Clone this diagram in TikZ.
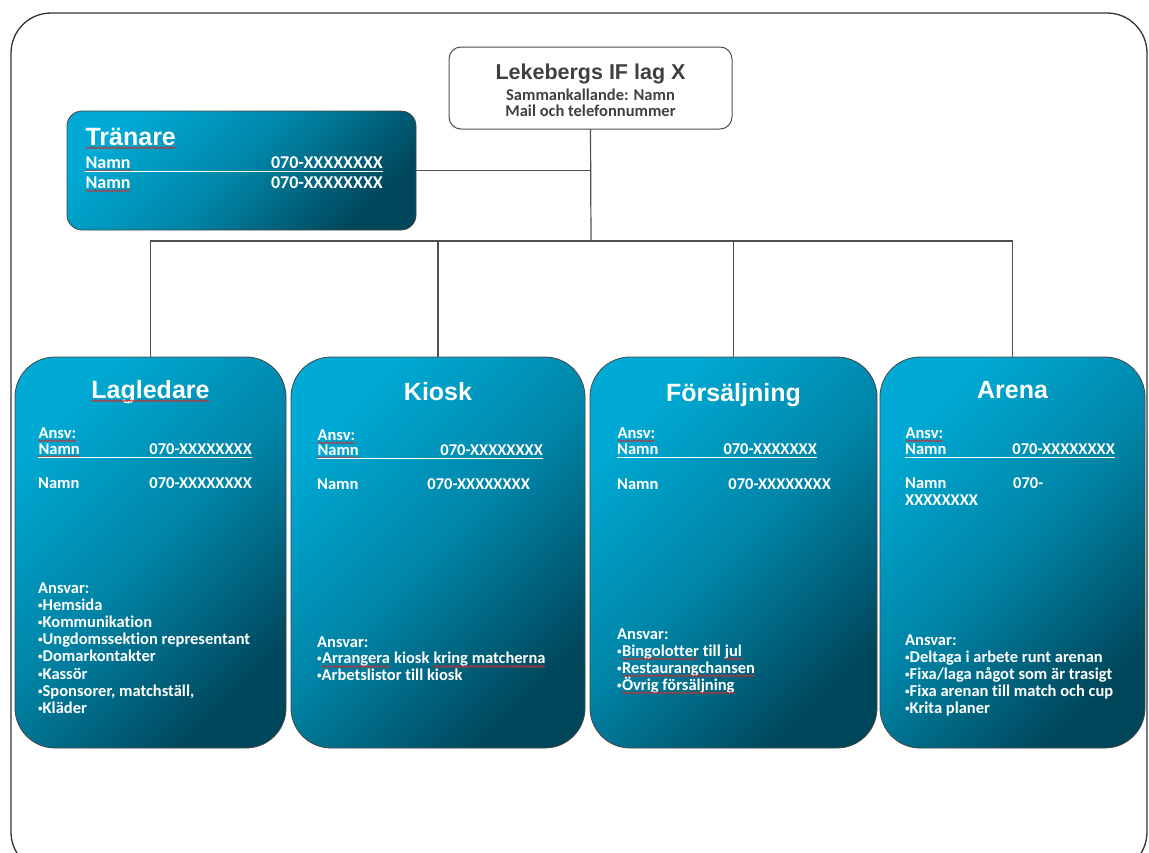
\documentclass[tikz,border=0pt]{standalone}
\usepackage{fontspec}
\setmainfont{Carlito}[Ligatures=NoCommon]
\newfontfamily\arialfont{Liberation Sans}
\usetikzlibrary{decorations.pathmorphing}
\definecolor{sqred}{RGB}{205,45,45}
\newcommand\sqg[1]{\tikz[baseline=(sqw.base)]{\node[inner sep=0pt,outer sep=0pt,anchor=base] (sqw) {#1};\draw[sqred, line width=0.7pt, decorate, decoration={snake, amplitude=0.9pt, segment length=3pt}] ([yshift=-2.8pt]sqw.base west) -- ([yshift=-2.8pt]sqw.base east);}}
\newcommand\bul{\raisebox{2pt}{\fontsize{9}{9}\selectfont•}}
\definecolor{boxlight}{RGB}{0,170,212}
\definecolor{boxmid}{RGB}{0,132,166}
\definecolor{boxdark}{RGB}{0,70,90}
\definecolor{boxline}{RGB}{70,70,70}
\definecolor{connline}{RGB}{80,80,80}
\definecolor{toptext}{RGB}{64,64,64}
\begin{document}
\begin{tikzpicture}[x=1pt,y=-1pt,
  frame/.style={draw=black!80, line width=1.3pt, rounded corners=40pt},
  bluebox/.style={draw=boxline, line width=0.8pt, rounded corners=40pt,
    top color=boxlight, bottom color=boxdark, middle color=boxmid, shading angle=45, inner sep=0pt, outer sep=0pt},
  tranbox/.style={bluebox, rounded corners=15pt},
  topbox/.style={draw=connline, line width=1pt, fill=white, rounded corners=12pt, inner sep=0pt, outer sep=0pt},
  conn/.style={draw=connline, line width=1.2pt},
  wline/.style={draw=white, line width=1pt},
  ttl/.style={font=\arialfont\bfseries\fontsize{25}{29}\selectfont, text=white, inner sep=0pt, anchor=base},
  toptitle/.style={font=\arialfont\bfseries\fontsize{21.5}{25}\selectfont, text=toptext, inner sep=0pt, anchor=base},
  topsub/.style={font=\bfseries\fontsize{16.5}{18}\selectfont, text=toptext, inner sep=0pt, anchor=base},
  body/.style={font=\bfseries\fontsize{16.5}{18}\selectfont, text=white, inner sep=0pt, anchor=base west},
  phone/.style={body, anchor=base east},
  tbody/.style={body, font=\bfseries\fontsize{18}{20}\selectfont}]
\useasboundingbox (0,0) rectangle (1149,852);
\clip (0,0) rectangle (1149,852);
\fill[white] (0,0) rectangle (1149,852);
\draw[frame] (11,13) rectangle (1147,872);

% boxes
\node[topbox, minimum width=283, minimum height=82] (top) at (590.5,88) {};
\node[tranbox, minimum width=349, minimum height=119] (tranare) at (241.5,170.5) {};
\node[bluebox, minimum width=271, minimum height=391] (lag) at (150.5,552.5) {};
\node[bluebox, minimum width=294, minimum height=391] (kiosk) at (438,552.5) {};
\node[bluebox, minimum width=287, minimum height=391] (fors) at (733.5,552.5) {};
\node[bluebox, minimum width=265, minimum height=391] (arena) at (1012.5,552.5) {};

% connectors
\coordinate (bus) at (591,241);
\draw[conn] (top.south) -- (bus);
\draw[conn] (tranare.east) -- (tranare.east -| bus);
\draw[conn] (lag.north) |- (bus) -| (arena.north);
\draw[conn] (kiosk.north) -- (kiosk.north |- bus);
\draw[conn] (fors.north) -- (fors.north |- bus);

% top box text
\node[toptitle] (toptitle) at (590.5,79) {Lekebergs IF lag X};
\node[topsub] (topsub1) at (590.5,100) {Sammankallande: Namn};
\node[topsub] (topsub2) at (590.5,116) {Mail och telefonnummer};

% Tränare
\node[ttl, anchor=base west] (tranT) at (85,145) {\sqg{Tränare}};
\node[tbody] (tranN1) at (85,168) {\sqg{Namn}};
\node[tbody, anchor=base east] (tranP1) at (383,168) {070-XXXXXXXX};
\node[tbody] (tranN2) at (85,188) {\sqg{Namn}};
\node[tbody, anchor=base east] (tranP2) at (383,188) {070-XXXXXXXX};
\draw[wline] ([yshift=-3pt]tranN1.base west) -- ([yshift=-3pt]tranP1.base east);

% Lagledare
\node[ttl] (lagT) at (150.5,398) {\sqg{Lagledare}};
\node[body] (lagA) at (38,438) {\sqg{Ansv:}};
\node[body] (lagN1) at (38,454) {\sqg{Namn}};
\node[phone] (lagP1) at (252,454) {070-XXXXXXXX};
\draw[wline] ([yshift=-3pt]lagN1.base west) -- ([yshift=-3pt]lagP1.base east);
\node[body] (lagN2) at (38,488) {Namn};
\node[phone] (lagP2) at (252,488) {070-XXXXXXXX};
\foreach \t [count=\i from 0] in {Ansvar:, \bul Hemsida, \bul Kommunikation, \bul Ungdomssektion representant, \bul Domarkontakter, \bul Kassör, {\bul Sponsorer, matchställ,}, \bul Kläder}
  \node[body] (lagL\i) at (38,593+17.2*\i) {\t};

% Kiosk
\node[ttl] (kioskT) at (438,400) {Kiosk};
\node[body] (kioskA) at (317,440) {\sqg{Ansv:}};
\node[body] (kioskN1) at (317,455) {\sqg{Namn}};
\node[phone] (kioskP1) at (543,455) {070-XXXXXXXX};
\draw[wline] ([yshift=-3pt]kioskN1.base west) -- ([yshift=-3pt]kioskP1.base east);
\node[body] (kioskN2) at (317,489) {Namn};
\node[phone] (kioskP2) at (530,489) {070-XXXXXXXX};
\foreach \t [count=\i from 0] in {Ansvar:, \bul\sqg{Arrangera} kiosk \sqg{kring matcherna}, \bul Arbetslistor till kiosk}
  \node[body] (kioskL\i) at (317,647+16.8*\i) {\t};

% Försäljning
\node[ttl] (forsT) at (733.5,401) {Försäljning};
\node[body] (forsA) at (617,438) {\sqg{Ansv:}};
\node[body] (forsN1) at (617,454) {Namn};
\node[phone] (forsP1) at (817,454) {070-XXXXXXX};
\draw[wline] ([yshift=-3pt]forsN1.base west) -- ([yshift=-3pt]forsP1.base east);
\node[body] (forsN2) at (617,489) {Namn};
\node[phone] (forsP2) at (831,489) {070-XXXXXXXX};
\foreach \t [count=\i from 0] in {Ansvar:, \bul\sqg{Bingolotter} till \sqg{jul}, \bul\sqg{Restaurangchansen}, \bul\sqg{Övrig försäljning}}
  \node[body] (forsL\i) at (617,639+17*\i) {\t};

% Arena
\node[ttl] (arenaT) at (1012.5,398) {Arena};
\node[body] (arenaA) at (905,438) {\sqg{Ansv:}};
\node[body] (arenaN1) at (905,454) {Namn};
\node[phone] (arenaP1) at (1115,454) {070-XXXXXXXX};
\draw[wline] ([yshift=-3pt]arenaN1.base west) -- ([yshift=-3pt]arenaP1.base east);
\node[body] (arenaN2) at (905,488) {Namn};
\node[body] (arenaP2) at (1013,488) {070-};
\node[body] (arenaP2b) at (905,505) {XXXXXXXX};
\foreach \t [count=\i from 0] in {Ansvar:, \bul Deltaga i arbete runt arenan, \bul Fixa/laga något som är trasigt, \bul Fixa arenan till match och cup, \bul Krita planer}
  \node[body] (arenaL\i) at (905,645+17*\i) {\t};
\end{tikzpicture}
\end{document}
